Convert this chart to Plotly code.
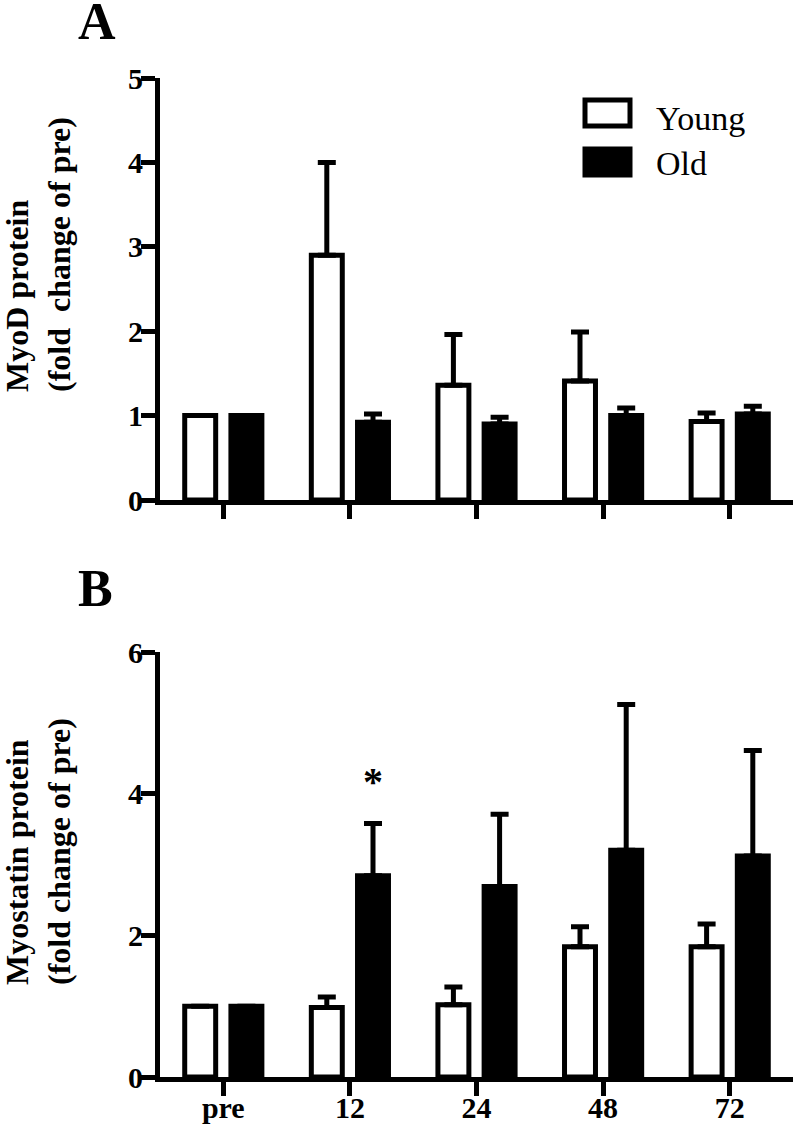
import plotly.graph_objects as go

W, H = 798, 1127

categories = ["pre", "12", "24", "48", "72"]

# Panel A: MyoD protein (fold change of pre)
myod_young = [1.0, 2.9, 1.36, 1.41, 0.93]
myod_young_err = [0, 1.1, 0.6, 0.58, 0.1]
myod_old = [1.0, 0.92, 0.9, 1.0, 1.02]
myod_old_err = [0, 0.1, 0.08, 0.09, 0.09]

# Panel B: Myostatin protein (fold change of pre)
myo_young = [1.0, 0.98, 1.02, 1.84, 1.84]
myo_young_err = [0, 0.15, 0.25, 0.28, 0.32]
myo_old = [1.0, 2.84, 2.69, 3.2, 3.12]
myo_old_err = [0, 0.74, 1.02, 2.06, 1.49]

yticks_a = [0, 1, 2, 3, 4, 5]
yticks_b = [0, 2, 4, 6]

SERIF = '"Liberation Serif", "Times New Roman", Times, serif'


def px(x):
    return x / W


def py(y):
    return 1 - y / H


fig = go.Figure()

err_style = dict(type="data", symmetric=False, thickness=5, width=9, color="black")

fig.add_trace(go.Bar(x=categories, y=myod_young, name="Young",
                     marker=dict(color="white", line=dict(color="black", width=5)),
                     error_y=dict(array=myod_young_err, arrayminus=[0] * 5, **err_style),
                     xaxis="x", yaxis="y", showlegend=False))
fig.add_trace(go.Bar(x=categories, y=myod_old, name="Old",
                     marker=dict(color="black", line=dict(color="black", width=5)),
                     error_y=dict(array=myod_old_err, arrayminus=[0] * 5, **err_style),
                     xaxis="x", yaxis="y", showlegend=False))
fig.add_trace(go.Bar(x=categories, y=myo_young, name="Young",
                     marker=dict(color="white", line=dict(color="black", width=5)),
                     error_y=dict(array=myo_young_err, arrayminus=[0] * 5, **err_style),
                     xaxis="x2", yaxis="y2", showlegend=False))
fig.add_trace(go.Bar(x=categories, y=myo_old, name="Old",
                     marker=dict(color="black", line=dict(color="black", width=5)),
                     error_y=dict(array=myo_old_err, arrayminus=[0] * 5, **err_style),
                     xaxis="x2", yaxis="y2", showlegend=False))

xdom = [px(160), px(793)]
axis_common = dict(showline=True, linecolor="black", linewidth=5, ticks="outside",
                   ticklen=14, tickwidth=5, tickcolor="black", showgrid=False,
                   zeroline=False, automargin=False)
tickfont = dict(family=SERIF, size=30, color="black", weight="bold")

fig.update_layout(
    width=W, height=H, autosize=False,
    margin=dict(l=0, r=0, t=0, b=0),
    paper_bgcolor="white", plot_bgcolor="white",
    font=dict(family=SERIF, color="black"),
    barmode="group", bargap=0.27, bargroupgap=0.33,
    showlegend=False,
    xaxis=dict(domain=xdom, anchor="y", type="category", categoryorder="array",
               categoryarray=categories, range=[-0.5, 4.5], showticklabels=False,
               **axis_common),
    yaxis=dict(domain=[py(500), py(78)], anchor="x", range=[0, 5], tickvals=yticks_a,
               ticktext=[str(v) for v in yticks_a], tickfont=tickfont,
               ticklabelstandoff=-8, **axis_common),
    xaxis2=dict(domain=xdom, anchor="y2", type="category", categoryorder="array",
                categoryarray=categories, range=[-0.5, 4.5], tickfont=tickfont,
                ticklabelstandoff=-14, **axis_common),
    yaxis2=dict(domain=[py(1077), py(652)], anchor="x2", range=[0, 6], tickvals=yticks_b,
                ticktext=[str(v) for v in yticks_b], tickfont=tickfont,
                ticklabelstandoff=-8, **axis_common),
)

ann = []
ann.append(dict(text="<b>A</b>", x=px(76), y=py(21), xref="paper", yref="paper",
                xanchor="left", yanchor="middle", showarrow=False,
                font=dict(family=SERIF, size=52, color="black")))
ann.append(dict(text="<b>B</b>", x=px(76), y=py(588), xref="paper", yref="paper",
                xanchor="left", yanchor="middle", showarrow=False,
                font=dict(family=SERIF, size=52, color="black")))
ann.append(dict(text="<b>MyoD protein<br>(fold  change of pre)</b>", x=px(38), y=py(255),
                xref="paper", yref="paper", xanchor="center", yanchor="middle",
                textangle=-90, align="left", showarrow=False,
                font=dict(family=SERIF, size=32, color="black")))
ann.append(dict(text="<b>Myostatin protein<br>(fold change of pre)</b>", x=px(38), y=py(852),
                xref="paper", yref="paper", xanchor="center", yanchor="middle",
                textangle=-90, align="left", showarrow=False,
                font=dict(family=SERIF, size=32, color="black")))
# significance marker above Old bar at 12 h
i12 = categories.index("12")
ann.append(dict(text="<b>*</b>", x=i12, y=myo_old[i12] + myo_old_err[i12], xref="x2", yref="y2",
                xshift=23, yshift=17, xanchor="center", yanchor="bottom", showarrow=False,
                font=dict(family=SERIF, size=40, color="black")))
# legend labels
ann.append(dict(text="Young", x=px(654), y=py(118), xref="paper", yref="paper",
                xanchor="left", yanchor="middle", showarrow=False,
                font=dict(family=SERIF, size=34, color="black")))
ann.append(dict(text="Old", x=px(654), y=py(163), xref="paper", yref="paper",
                xanchor="left", yanchor="middle", showarrow=False,
                font=dict(family=SERIF, size=34, color="black")))
fig.update_layout(annotations=ann)

fig.update_layout(shapes=[
    dict(type="rect", xref="paper", yref="paper", x0=px(585), x1=px(630), y0=py(126), y1=py(100),
         fillcolor="white", line=dict(color="black", width=5)),
    dict(type="rect", xref="paper", yref="paper", x0=px(585), x1=px(630), y0=py(175), y1=py(149),
         fillcolor="black", line=dict(color="black", width=5)),
])

fig.write_html("out.html", config={"displayModeBar": False},
               post_script="document.body.style.margin='0px';document.body.style.overflow='hidden';")
